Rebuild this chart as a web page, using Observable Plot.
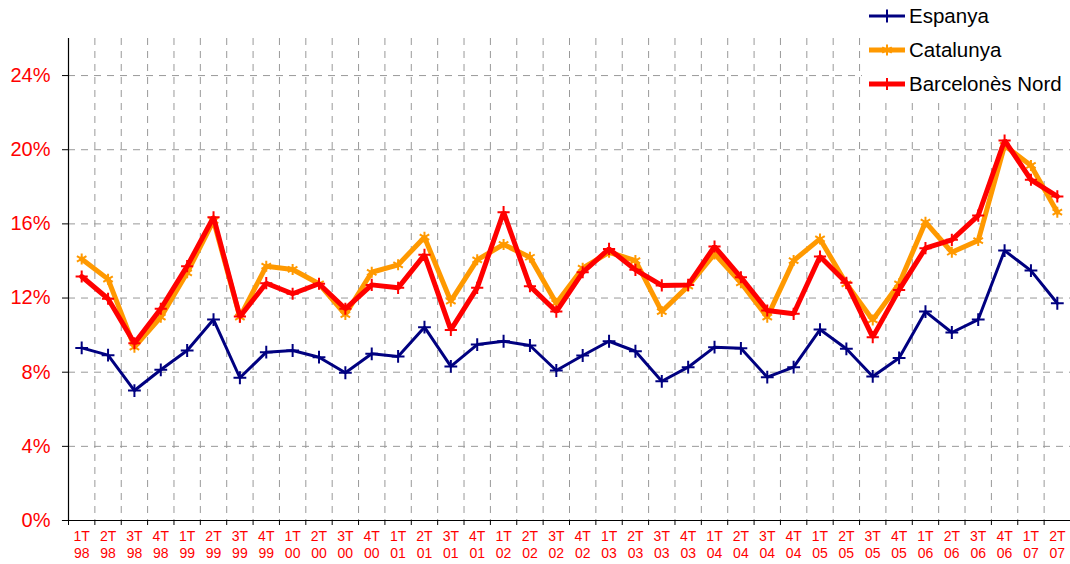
<!DOCTYPE html>
<html>
<head>
<meta charset="utf-8">
<script src="https://cdn.jsdelivr.net/npm/d3@7"></script>
<script src="https://cdn.jsdelivr.net/npm/@observablehq/plot@0.6"></script>
<style>
  html, body { margin: 0; padding: 0; background: #fff; }
  #wrap { position: relative; width: 1070px; height: 564px; font-family: "Liberation Sans", Arial, sans-serif; }
  #legend { position: absolute; left: 862px; top: 0; width: 208px; height: 98px; background: #fff; }
  .item { position: absolute; left: 0; height: 30px; display: flex; align-items: center; }
  .item span { font-size: 20.5px; color: #000; margin-left: 3px; white-space: nowrap; }
</style>
</head>
<body>
<div id="wrap">
  <div id="chart"></div>
  <div id="legend"></div>
</div>
<script>
const quarters = ["1T 98","2T 98","3T 98","4T 98","1T 99","2T 99","3T 99","4T 99",
  "1T 00","2T 00","3T 00","4T 00","1T 01","2T 01","3T 01","4T 01",
  "1T 02","2T 02","3T 02","4T 02","1T 03","2T 03","3T 03","4T 03",
  "1T 04","2T 04","3T 04","4T 04","1T 05","2T 05","3T 05","4T 05",
  "1T 06","2T 06","3T 06","4T 06","1T 07","2T 07"];

const espanya = [9.31,8.92,7.01,8.13,9.17,10.84,7.70,9.08,9.17,8.81,7.97,8.99,8.85,
  10.43,8.31,9.49,9.67,9.44,8.09,8.90,9.67,9.13,7.51,8.27,
  9.35,9.29,7.73,8.27,10.30,9.26,7.77,8.77,11.27,10.14,10.84,14.56,13.48,11.72];

const catalunya = [14.11,13.02,9.35,10.97,13.36,16.18,10.97,13.72,13.54,12.77,11.11,13.39,13.79,
  15.28,11.83,14.06,14.89,14.20,11.72,13.61,14.47,14.02,11.27,12.64,
  14.38,12.82,10.97,14.02,15.19,12.77,10.82,12.77,16.09,14.47,15.10,20.23,19.15,16.63];

const barcelonesNord = [13.16,11.96,9.56,11.42,13.72,16.36,11.00,12.80,12.23,12.77,11.42,12.71,12.55,
  14.33,10.28,12.55,16.63,12.64,11.27,13.39,14.65,13.52,12.68,12.71,
  14.78,13.12,11.33,11.15,14.24,12.82,9.89,12.44,14.69,15.14,16.45,20.50,18.38,17.48];

const yTicks = [0, 4, 8, 12, 16, 20, 24];

const seriesNames = ["Espanya", "Catalunya", "Barcelonès Nord"];
const seriesValues = [espanya, catalunya, barcelonesNord];
const seriesColors = ["#000080", "#FF9900", "#FF0000"];
const seriesWidths = [3, 5, 5];
const seriesSymbols = ["plus", "asterisk", "plus"];
const seriesR = [4.2, 5.2, 4.0];

const n = quarters.length;
const rowsOf = vals => vals.map((v, i) => ({i, q: quarters[i], v}));

const marks = [
  Plot.gridY(yTicks, {stroke: "#999", strokeOpacity: 1, strokeDasharray: "7,6"}),
  Plot.gridX(d3.range(1, n + 1), {stroke: "#999", strokeOpacity: 1, strokeDasharray: "7,6"}),
  Plot.ruleX([0], {stroke: "#000", strokeWidth: 1.2}),
  Plot.ruleY([0], {stroke: "#000", strokeWidth: 1.2, x1: -0.23, x2: n}),
  Plot.axisY({ticks: yTicks, tickFormat: d => d + "%", tickSize: 6, tickPadding: 12,
    fill: "#FF0000", fontSize: 20, label: null, stroke: "#000"}),
  Plot.axisX({ticks: d3.range(0, n + 1), tickSize: 5, text: null, label: null, stroke: "#000"}),
  Plot.axisX({ticks: d3.range(n).map(i => i + 0.5), tickSize: 0, tickPadding: 9,
    tickFormat: t => quarters[Math.floor(t)].replace(" ", "\n"),
    fill: "#FF0000", fontSize: 14, lineHeight: 1.2, label: null})
];

seriesValues.forEach((vals, k) => {
  const rows = rowsOf(vals);
  marks.push(Plot.line(rows, {x: d => d.i + 0.5, y: "v", stroke: seriesColors[k],
    strokeWidth: seriesWidths[k], strokeLinejoin: "miter"}));
  marks.push(Plot.dot(rows, {x: d => d.i + 0.5, y: "v", symbol: seriesSymbols[k], r: seriesR[k],
    stroke: seriesColors[k], strokeWidth: 2, fill: "none"}));
});

const chart = Plot.plot({
  width: 1070,
  height: 564,
  marginLeft: 68,
  marginRight: 0,
  marginTop: 38,
  marginBottom: 44,
  style: {fontFamily: "'Liberation Sans', Arial, sans-serif", background: "#fff"},
  x: {type: "linear", domain: [0, n], axis: null},
  y: {domain: [0, 26], axis: null},
  marks
});
document.getElementById("chart").appendChild(chart);

// legend
const legend = document.getElementById("legend");
const tops = [1, 35, 69];
seriesNames.forEach((name, k) => {
  const item = document.createElement("div");
  item.className = "item";
  item.style.top = tops[k] + "px";
  const ns = "http://www.w3.org/2000/svg";
  const sw = document.createElementNS(ns, "svg");
  sw.setAttribute("width", 44);
  sw.setAttribute("height", 30);
  const ln = document.createElementNS(ns, "line");
  ln.setAttribute("x1", 7); ln.setAttribute("x2", 43);
  ln.setAttribute("y1", 15); ln.setAttribute("y2", 15);
  ln.setAttribute("stroke", seriesColors[k]);
  ln.setAttribute("stroke-width", seriesWidths[k]);
  sw.appendChild(ln);
  const sym = document.createElementNS(ns, "path");
  const size = Math.PI * seriesR[k] * seriesR[k];
  const symType = seriesSymbols[k] === "plus" ? d3.symbolPlus : d3.symbolAsterisk;
  sym.setAttribute("d", d3.symbol(symType, size)());
  sym.setAttribute("transform", "translate(25,15)");
  sym.setAttribute("stroke", seriesColors[k]);
  sym.setAttribute("stroke-width", 2);
  sym.setAttribute("fill", "none");
  sw.appendChild(sym);
  item.appendChild(sw);
  const sp = document.createElement("span");
  sp.textContent = name;
  item.appendChild(sp);
  legend.appendChild(item);
});
</script>
</body>
</html>
